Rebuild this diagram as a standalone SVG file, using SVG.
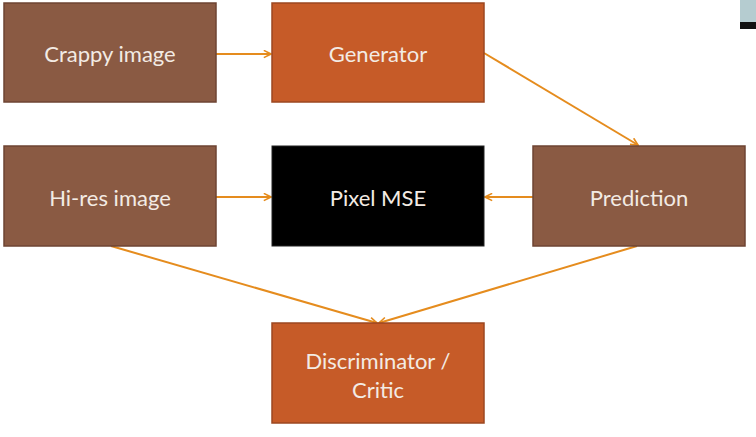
<svg xmlns="http://www.w3.org/2000/svg" width="756" height="437" viewBox="0 0 756 437">
<style>
.brown{fill:#8a5a43;stroke:#6e4433;stroke-width:1.5}
.orange{fill:#c65b28;stroke:#9c4720;stroke-width:1.5}
.black{fill:#000;stroke:#222;stroke-width:1}
.lbl{font-family:Lato,"Open Sans",sans-serif;font-size:22px;fill:#f3ebe4;text-anchor:middle;dominant-baseline:central}
.conn{stroke:#e58c1e;stroke-width:2;fill:none;marker-end:url(#ah)}
</style>
<defs>
<marker id="ah" viewBox="0 0 10 10" refX="9" refY="5" markerWidth="9" markerHeight="9" orient="auto" markerUnits="userSpaceOnUse">
<path d="M1,1 L9,5 L1,9" fill="none" stroke="#e58c1e" stroke-width="1.8"/>
</marker>
</defs>
<rect width="756" height="437" fill="#fff"/>
<g id="corner">
<rect x="740" y="0" width="16" height="22" fill="#b5ccd0"/>
<rect x="740" y="22" width="16" height="7" fill="#111"/>
</g>
<g id="connectors">
<line class="conn" x1="216" y1="54" x2="271" y2="54"/>
<line class="conn" x1="484" y1="53" x2="638" y2="145"/>
<line class="conn" x1="216" y1="197" x2="271" y2="197"/>
<line class="conn" x1="533" y1="197" x2="485" y2="197"/>
<line class="conn" x1="111" y1="246" x2="377" y2="323"/>
<line class="conn" x1="637" y1="246" x2="379" y2="323"/>
</g>
<g id="crappy">
<rect class="brown" x="4" y="3" width="212" height="99"/>
<text class="lbl" x="110" y="53">Crappy image</text>
</g>
<g id="generator">
<rect class="orange" x="272" y="3" width="212" height="99"/>
<text class="lbl" x="378" y="53">Generator</text>
</g>
<g id="hires">
<rect class="brown" x="4" y="146" width="212" height="100"/>
<text class="lbl" x="110" y="197">Hi-res image</text>
</g>
<g id="pixelmse">
<rect class="black" x="272" y="146" width="212" height="100"/>
<text class="lbl" x="378" y="197">Pixel MSE</text>
</g>
<g id="prediction">
<rect class="brown" x="533" y="146" width="212" height="100"/>
<text class="lbl" x="639" y="197">Prediction</text>
</g>
<g id="discriminator">
<rect class="orange" x="272" y="323" width="212" height="100"/>
<text class="lbl" x="378" y="360">Discriminator /</text>
<text class="lbl" x="378" y="389">Critic</text>
</g>
</svg>
